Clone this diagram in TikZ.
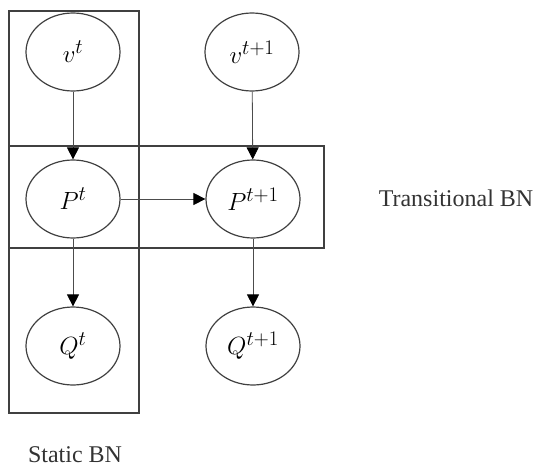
\documentclass[tikz,border=0pt]{standalone}
\usepackage{fontspec}
\setmainfont{Liberation Serif}
\usetikzlibrary{arrows.meta,shapes.geometric}
\begin{document}
\begin{tikzpicture}[x=1pt,y=-1pt,
  var/.style={draw=black!75,line width=1.2pt,ellipse,minimum width=94pt,minimum height=78pt,inner sep=0pt,font=\fontsize{30}{34}\selectfont},
  boxframe/.style={draw=black!75,line width=1.3pt},
  edge/.style={draw=black!70,line width=0.8pt,-{Triangle[length=12pt,width=12pt,color=black]}},
  lbl/.style={font=\fontsize{24}{28}\selectfont,text=black!80,inner sep=0pt}]
\useasboundingbox (0,0) rectangle (534,468);
\draw[boxframe] (9,11) rectangle (139,413);
\draw[boxframe] (9,146) rectangle (324,248);
\node[var] (vt) at (73,52) {$v^t$};
\node[var] (vt1) at (252,52) {$v^{t+1}$};
\node[var] (pt) at (73,199) {$P^t$};
\node[var] (pt1) at (253,199) {$P^{t+1}$};
\node[var] (qt) at (73,346) {$Q^t$};
\node[var] (qt1) at (253,346) {$Q^{t+1}$};
\draw[edge] (vt) -- (pt);
\draw[edge] (vt1) -- (pt1);
\draw[edge] (pt) -- (pt1);
\draw[edge] (pt) -- (qt);
\draw[edge] (pt1) -- (qt1);
\node[lbl] (trans) at (456,198) {Transitional BN};
\node[lbl] (stat) at (75,455) {Static BN};
\end{tikzpicture}
\end{document}
